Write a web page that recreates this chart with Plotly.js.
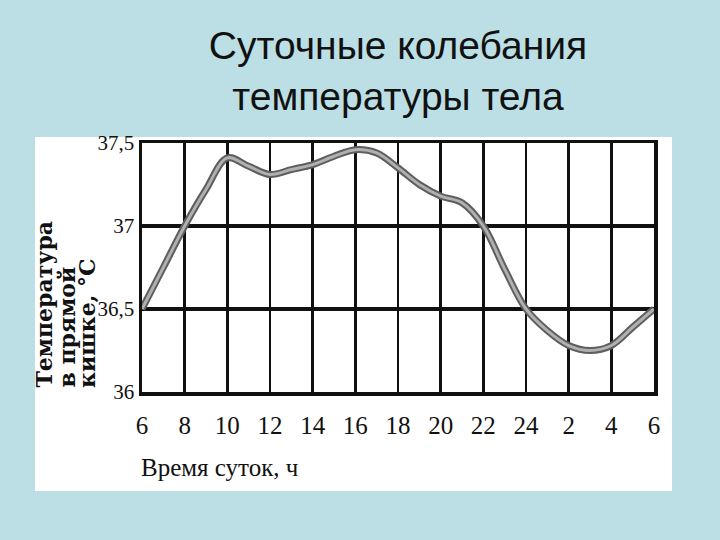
<!DOCTYPE html>
<html>
<head>
<meta charset="utf-8">
<script src="https://cdn.plot.ly/plotly-3.0.1.min.js"></script>
<style>html,body{margin:0;padding:0;background:#bbdfe5;}</style>
</head>
<body>
<div id="chart" style="width:720px;height:540px;"></div>
<script>
// Hours of the day (6 h of one day to 6 h of the next, as continuous hours)
const hours = [6,7,8,9,10,11,12,13,14,15,16,17,18,19,20,21,22,23,24,25,26,27,28,29,30];
// Rectal body temperature, °C
const temps = [36.50,36.75,37.00,37.22,37.41,37.36,37.31,37.34,37.37,37.42,37.46,37.44,37.35,37.25,37.18,37.14,37.00,36.74,36.50,36.37,36.28,36.25,36.28,36.39,36.50];

const xTickVals = [6,8,10,12,14,16,18,20,22,24,26,28,30];
const xTickText = ['6','8','10','12','14','16','18','20','22','24','2','4','6'];
const yTickVals = [36,36.5,37,37.5];
const yTickText = ['36','36,5','37','37,5'];

const titleText = 'Суточные колебания<br>температуры тела';
const yTitleLines = ['Температура','в прямой','кишке, °С'];
const xTitleText = 'Время суток, ч';

const L = 142, R = 654, T = 143, B = 392;
const W = 720, H = 540;
const pw = R - L, ph = B - T;
const px2x = p => (p - L) / pw;
const py2y = p => (B - p) / ph;

const serif = 'Liberation Serif, Times New Roman, serif';
const yTitleX = [43, 66, 87];

const traces = [
  {x: hours, y: temps, type: 'scatter', mode: 'lines',
   line: {color: '#5e5e5e', width: 7, shape: 'spline', smoothing: 1}, hoverinfo: 'skip'},
  {x: hours, y: temps, type: 'scatter', mode: 'lines',
   line: {color: '#b0b0b0', width: 3, shape: 'spline', smoothing: 1}, hoverinfo: 'skip'}
];

const annotations = yTitleLines.map((t, i) => ({
  text: t, xref: 'paper', yref: 'paper', x: px2x(yTitleX[i]), y: py2y(390),
  xanchor: 'center', yanchor: 'bottom', textangle: -90, showarrow: false,
  font: {family: 'DejaVu Serif, serif', size: 22, color: '#111', weight: 'bold'}
}));
annotations.push({
  text: xTitleText, xref: 'paper', yref: 'paper', x: px2x(139), y: py2y(467),
  xanchor: 'left', yanchor: 'middle', showarrow: false,
  font: {family: serif, size: 25, color: '#111'}
});

const layout = {
  width: W, height: H,
  margin: {l: L, r: W - R, t: T, b: H - B, pad: 0},
  paper_bgcolor: '#bbdfe5',
  plot_bgcolor: '#ffffff',
  showlegend: false,
  title: {text: titleText, font: {family: 'Liberation Sans, Arial, sans-serif', size: 39, color: '#111'},
          x: 0.5, xanchor: 'center', xref: 'paper', y: 1 - 59 / H, yanchor: 'top', yref: 'container'},
  xaxis: {range: [6, 30], tickvals: xTickVals, ticktext: xTickText, ticks: '',
          showgrid: true, gridcolor: '#111', gridwidth: 2.5, zeroline: false,
          showline: true, linecolor: '#111', linewidth: 3.5, mirror: true,
          ticklabelstandoff: 8,
          tickfont: {family: serif, size: 25, color: '#111'}, fixedrange: true},
  yaxis: {range: [36, 37.5], tickvals: yTickVals, ticktext: yTickText, ticks: '',
          showgrid: true, gridcolor: '#111', gridwidth: 3.5, zeroline: false,
          showline: true, linecolor: '#111', linewidth: 3.5, mirror: true,
          ticklabelstandoff: 0,
          tickfont: {family: serif, size: 21, color: '#111'}, fixedrange: true},
  shapes: [{type: 'rect', xref: 'paper', yref: 'paper', layer: 'below',
            x0: px2x(35), x1: px2x(672), y0: py2y(491), y1: py2y(137),
            fillcolor: '#ffffff', line: {width: 0}}],
  annotations: annotations
};

Plotly.newPlot('chart', traces, layout, {staticPlot: true, displayModeBar: false});
</script>
</body>
</html>
